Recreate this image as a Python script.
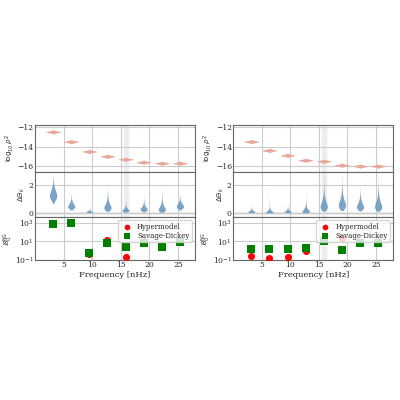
import numpy as np, pandas as pd, seaborn as sns, matplotlib
matplotlib.use("Agg")
import matplotlib.pyplot as plt
from statistics import NormalDist

sns.set_style("whitegrid")
plt.rcParams['font.family'] = ['DejaVu Serif']
plt.rcParams['font.size'] = 6

freqs = [3.17, 6.34, 9.51, 12.68, 15.85, 19.02, 22.19, 25.36]
rho_left = [-12.5, -13.5, -14.5, -15.0, -15.3, -15.6, -15.7, -15.7]
rho_right = [-13.5, -14.4, -14.9, -15.4, -15.5, -15.9, -16.0, -16.0]
dth_med_left = [1.3, 0.5, 0.08, 0.45, 0.2, 0.3, 0.3, 0.5]
dth_max_left = [2.6, 1.3, 0.45, 2.0, 0.9, 1.2, 2.0, 1.3]
dth_med_right = [0.1, 0.05, 0.1, 0.15, 0.55, 0.65, 0.5, 0.55]
dth_max_right = [0.6, 2.0, 0.8, 1.8, 2.7, 2.7, 1.9, 2.7]
hyper_left = [900, 1300, 0.4, 14, 0.22, 11, 3.5, 8]
sd_left = [800, 900, 0.5, 6, 2.2, 6, 2.2, 8]
hyper_right = [0.3, 0.15, 0.2, 1.0, 18, 25, 6, 10]
sd_right = [1.7, 1.5, 1.6, 2.1, 12, 1.3, 6, 7]

zq = np.array([NormalDist().inv_cdf(p) for p in np.linspace(0.005, 0.995, 150)])

def rho_df(centers):
    rows = []
    for f, c in zip(freqs, centers):
        for v in c + 0.085 * zq:
            rows.append((f, v))
    return pd.DataFrame(rows, columns=["f", "v"])

def dth_df(med, mx):
    rows = []
    for f, m, M in zip(freqs, med, mx):
        s = np.log(M / m) / 2.6
        for v in m * np.exp(s * zq):
            rows.append((f, v))
    return pd.DataFrame(rows, columns=["f", "v"])

fig = plt.figure(figsize=(4, 4), dpi=100)
cols = [(0.0875, rho_left, dth_med_left, dth_max_left, hyper_left, sd_left),
        (0.583, rho_right, dth_med_right, dth_max_right, hyper_right, sd_right)]
for x0, rho, md, mx, hy, sd in cols:
    w = 0.40
    a1 = fig.add_axes([x0, 0.57, w, 0.1175])
    a2 = fig.add_axes([x0, 0.4575, w, 0.1125], sharex=a1)
    a3 = fig.add_axes([x0, 0.35, w, 0.1075], sharex=a1)
    for a in (a1, a2, a3):
        a.axvspan(15.5, 16.2, color="0.93", zorder=0)
    sns.violinplot(data=rho_df(rho), x="f", y="v", native_scale=True, ax=a1,
                   inner=None, cut=0, color="#f4a090", linewidth=0, width=0.8,
                   density_norm="width")
    a2.axhspan(-0.08, 0.08, color="0.93", zorder=0)
    sns.violinplot(data=dth_df(md, mx), x="f", y="v", native_scale=True, ax=a2,
                   inner=None, cut=0, color="#4a90c8", linewidth=0, width=0.4,
                   density_norm="width")
    for c in a2.collections:
        c.set_alpha(0.8)
    sns.scatterplot(x=freqs, y=hy, ax=a3, color="red", marker="o", s=26,
                    linewidth=0, label="Hypermodel", zorder=3)
    sns.scatterplot(x=freqs, y=sd, ax=a3, color="green", marker="s", s=26,
                    linewidth=0, label="Savage-Dickey", zorder=4)
    a3.set_yscale("log")
    a3.set_ylim(0.1, 4000)
    a3.set_yticks([0.1, 10, 1000])
    a1.set_xlim(0, 28)
    a1.set_ylim(-16.6, -11.8)
    a1.set_yticks([-16, -14, -12])
    a2.set_ylim(-0.3, 2.9)
    a2.set_yticks([0, 2])
    a3.set_xticks([5, 10, 15, 20, 25])
    for a in (a1, a2):
        a.tick_params(labelbottom=False)
        a.set_xlabel("")
    a1.set_ylabel(r"$\log_{10}\rho^2$", fontsize=5, labelpad=1)
    a2.set_ylabel(r"$\Delta\Theta_k$", fontsize=5, labelpad=1)
    a3.set_ylabel(r"$\mathcal{B}_0^{\rm NG}$", fontsize=5, labelpad=0)
    a3.set_xlabel("Frequency [nHz]", labelpad=1)
    a3.legend(loc="upper right", fontsize=5, frameon=True, borderpad=0.3,
              handletextpad=0.5, labelspacing=0.25, markerscale=0.8)
    for a in (a1, a2, a3):
        a.tick_params(labelsize=5.5, pad=1, length=0)
        for s in a.spines.values():
            s.set_color("0.4")
fig.savefig("out.png", dpi=100)
